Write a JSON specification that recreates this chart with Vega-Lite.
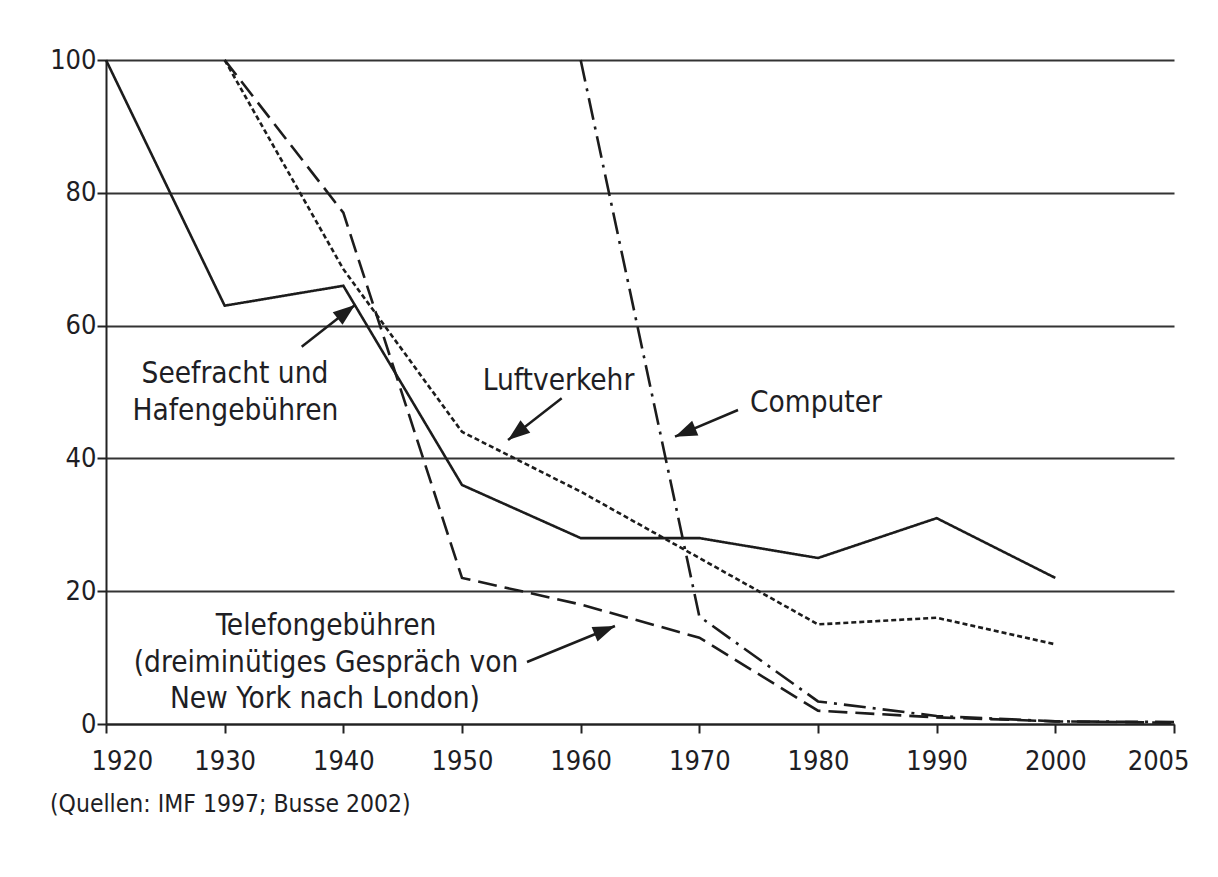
{
  "$schema": "https://vega.github.io/schema/vega-lite/v6.json",
  "width": 1068,
  "height": 664,
  "autosize": "none",
  "padding": {"left": 106, "top": 60, "right": 44, "bottom": 153},
  "background": "white",
  "config": {
    "view": {"stroke": null},
    "font": "DejaVu Sans Condensed",
    "text": {"font": "DejaVu Sans Condensed"}
  },
  "datasets": {
    "series": [
      {"series": "Seefracht und Hafengebühren", "year": 1920, "value": 100},
      {"series": "Seefracht und Hafengebühren", "year": 1930, "value": 63},
      {"series": "Seefracht und Hafengebühren", "year": 1940, "value": 66},
      {"series": "Seefracht und Hafengebühren", "year": 1950, "value": 36},
      {"series": "Seefracht und Hafengebühren", "year": 1960, "value": 28},
      {"series": "Seefracht und Hafengebühren", "year": 1970, "value": 28},
      {"series": "Seefracht und Hafengebühren", "year": 1980, "value": 25},
      {"series": "Seefracht und Hafengebühren", "year": 1990, "value": 31},
      {"series": "Seefracht und Hafengebühren", "year": 2000, "value": 22},
      {"series": "Luftverkehr", "year": 1930, "value": 100},
      {"series": "Luftverkehr", "year": 1940, "value": 68.5},
      {"series": "Luftverkehr", "year": 1950, "value": 44},
      {"series": "Luftverkehr", "year": 1960, "value": 35},
      {"series": "Luftverkehr", "year": 1970, "value": 25},
      {"series": "Luftverkehr", "year": 1980, "value": 15},
      {"series": "Luftverkehr", "year": 1990, "value": 16},
      {"series": "Luftverkehr", "year": 2000, "value": 12},
      {"series": "Telefongebühren", "year": 1930, "value": 100},
      {"series": "Telefongebühren", "year": 1940, "value": 77},
      {"series": "Telefongebühren", "year": 1950, "value": 22},
      {"series": "Telefongebühren", "year": 1960, "value": 18},
      {"series": "Telefongebühren", "year": 1970, "value": 13},
      {"series": "Telefongebühren", "year": 1980, "value": 2},
      {"series": "Telefongebühren", "year": 1990, "value": 1},
      {"series": "Telefongebühren", "year": 2000, "value": 0.4},
      {"series": "Telefongebühren", "year": 2005, "value": 0.2},
      {"series": "Computer", "year": 1960, "value": 100},
      {"series": "Computer", "year": 1970, "value": 16.2},
      {"series": "Computer", "year": 1980, "value": 3.4},
      {"series": "Computer", "year": 1990, "value": 1.2},
      {"series": "Computer", "year": 2000, "value": 0.4},
      {"series": "Computer", "year": 2005, "value": 0.3}
    ],
    "labels": [
      {"text": "Seefracht und", "year": 1930.87, "value": 51.4},
      {"text": "Hafengebühren", "year": 1930.91, "value": 45.8},
      {"text": "Luftverkehr", "year": 1958.13, "value": 50.3},
      {"text": "Computer", "year": 1979.83, "value": 47.0},
      {"text": "Telefongebühren", "year": 1938.54, "value": 13.4},
      {"text": "(dreiminütiges Gespräch von", "year": 1938.54, "value": 7.9},
      {"text": "New York nach London)", "year": 1938.45, "value": 2.4}
    ],
    "arrows": [
      {"arrow": "Seefracht", "year": 1936.49, "value": 56.82, "tipYear": 1940.98, "tipValue": 63.1, "angle": 52},
      {"arrow": "Luftverkehr", "year": 1958.40, "value": 49.05, "tipYear": 1953.88, "tipValue": 42.77, "angle": 232},
      {"arrow": "Computer", "year": 1973.26, "value": 47.29, "tipYear": 1967.95, "tipValue": 43.27, "angle": 247},
      {"arrow": "Telefon", "year": 1955.48, "value": 9.34, "tipYear": 1962.89, "tipValue": 14.76, "angle": 68}
    ]
  },
  "layer": [
    {
      "data": {"name": "series"},
      "mark": {"type": "line", "strokeWidth": 2.6, "color": "#1c1c1c", "strokeCap": "butt", "strokeJoin": "miter"},
      "encoding": {
        "x": {
          "field": "year", "type": "quantitative",
          "scale": {"domain": [1920, 2000, 2005], "range": [0, 949.33, 1068], "nice": false, "zero": false},
          "axis": {
            "title": null, "values": [1920, 1930, 1940, 1950, 1960, 1970, 1980, 1990, 2000, 2005],
            "format": "d", "grid": false,
            "domainColor": "#222", "domainWidth": 2,
            "tickColor": "#222", "tickWidth": 2, "tickSize": 9,
            "labelFont": "DejaVu Sans Condensed", "labelFontSize": 27, "labelColor": "#1e1e24",
            "labelPadding": 15, "labelFlush": true, "labelFlushOffset": 15
          }
        },
        "y": {
          "field": "value", "type": "quantitative",
          "scale": {"domain": [0, 100], "nice": false},
          "axis": {
            "title": null, "values": [0, 20, 40, 60, 80, 100],
            "grid": true, "gridColor": "#333", "gridWidth": 2,
            "domainColor": "#222", "domainWidth": 2,
            "tickColor": "#222", "tickWidth": 2, "tickSize": 9,
            "labelFont": "DejaVu Sans Condensed", "labelFontSize": 27, "labelColor": "#1e1e24",
            "labelPadding": 1
          }
        },
        "detail": {"field": "series"},
        "strokeDash": {
          "field": "series", "type": "nominal", "legend": null,
          "scale": {
            "domain": ["Seefracht und Hafengebühren", "Luftverkehr", "Telefongebühren", "Computer"],
            "range": [[1, 0], [5, 3], [19, 8], [22, 7, 3, 7]]
          }
        }
      }
    },
    {
      "data": {"name": "arrows"},
      "mark": {"type": "rule", "strokeWidth": 2.5, "color": "#1c1c1c"},
      "encoding": {
        "x": {"field": "year", "type": "quantitative"},
        "y": {"field": "value", "type": "quantitative"},
        "x2": {"field": "tipYear"},
        "y2": {"field": "tipValue"}
      }
    },
    {
      "data": {"name": "arrows"},
      "mark": {"type": "point", "filled": true, "opacity": 1, "color": "#1c1c1c", "shape": "M0,0L-0.36,1L0.36,1Z", "size": 1936},
      "encoding": {
        "x": {"field": "tipYear", "type": "quantitative"},
        "y": {"field": "tipValue", "type": "quantitative"},
        "angle": {"field": "angle", "type": "quantitative", "scale": null}
      }
    },
    {
      "data": {"name": "labels"},
      "mark": {"type": "text", "fontSize": 29.5, "align": "center", "baseline": "alphabetic", "color": "#1e1e24", "font": "DejaVu Sans Condensed"},
      "encoding": {
        "x": {"field": "year", "type": "quantitative"},
        "y": {"field": "value", "type": "quantitative"},
        "text": {"field": "text"}
      }
    },
    {
      "data": {"values": [{"note": "(Quellen: IMF 1997; Busse 2002)"}]},
      "mark": {"type": "text", "fontSize": 24.5, "align": "left", "baseline": "alphabetic", "color": "#1e1e24", "font": "DejaVu Sans Condensed"},
      "encoding": {
        "x": {"datum": 1915.28, "type": "quantitative"},
        "y": {"datum": -13.2, "type": "quantitative"},
        "text": {"field": "note"}
      }
    }
  ]
}
